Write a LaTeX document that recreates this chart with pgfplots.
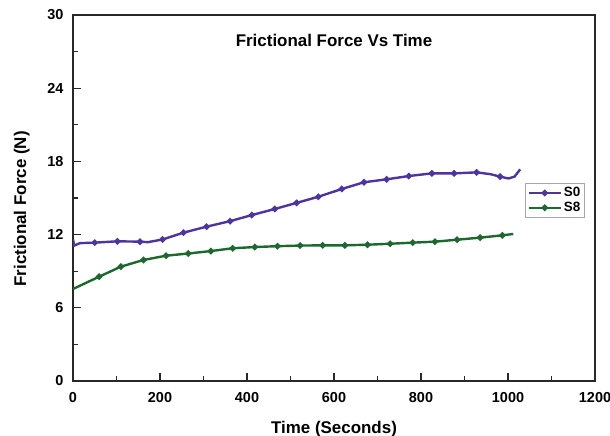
\documentclass[border=0pt]{standalone}
\usepackage{pgfplots}
\pgfplotsset{compat=1.18}
\usepackage{fontspec}
\setmainfont{Liberation Sans}
\definecolor{sPurple}{RGB}{78,52,160}
\definecolor{sGreen}{RGB}{28,104,46}
\definecolor{frameC}{RGB}{40,40,40}
\begin{document}
\begin{tikzpicture}[x=1bp,y=1bp]
\useasboundingbox (0,0) rectangle (610,436);
\begin{axis}[
  at={(73bp,55bp)}, anchor=south west,
  scale only axis, width=522bp, height=366bp,
  xmin=0, xmax=1200, ymin=0, ymax=30,
  xtick={0,200,...,1200}, ytick={0,6,...,30},
  minor x tick num=1, minor y tick num=1,
  xtick pos=lower, ytick pos=left, tick align=inside,
  major tick length=8bp, minor tick length=4.5bp,
  every tick/.style={line width=1.1bp, frameC},
  axis line style={line width=1.5bp, frameC},
  /pgf/number format/assume math mode=true,
  /pgf/number format/1000 sep={},
  ticklabel style={font=\fontsize{14.5}{17}\selectfont\bfseries, text=black},
  xticklabel style={yshift=-8bp},
  yticklabel style={xshift=-6bp},
  xlabel={Time (Seconds)}, ylabel={Frictional Force (N)},
  label style={font=\fontsize{17}{20}\selectfont\bfseries},
  xlabel style={at={(axis description cs:0.5,-0.131)}, anchor=center},
  ylabel style={at={(axis description cs:-0.098,0.47)}, anchor=center},
  title={Frictional Force Vs Time},
  title style={at={(axis description cs:0.5,0.915)}, anchor=center, font=\fontsize{17}{20}\selectfont\bfseries},
  legend style={at={(axis description cs:0.866,0.541)}, anchor=north west,
    draw=gray!70, line width=1bp, font=\fontsize{13.5}{15}\selectfont\bfseries,
    inner sep=2bp, row sep=0bp, fill=white},
  legend cell align=left,
  every mark/.append style={line width=0.4bp},
  legend image code/.code={\draw[#1, mark indices={2}] plot coordinates {(0bp,0bp) (16bp,0bp) (32bp,0bp)};},
]
\addplot[sPurple, line width=2.4bp, mark=*, mark size=1.9bp,
  mark indices={4,5,6,8,9,10,11,12,13,14,15,16,17,18,19,20,21,22,24}] coordinates {
(0,11.6) (3,11.1) (16,11.3) (50,11.34) (102,11.45) (154,11.42) (172,11.38) (206,11.6)
(254,12.16) (307,12.65) (361,13.1) (411,13.6) (464,14.1) (514,14.6) (564,15.1)
(618,15.74) (669,16.29) (721,16.53) (772,16.8) (825,17.02) (876,17.02) (928,17.1)
(960,16.95) (982,16.75) (1001,16.6) (1015,16.75) (1028,17.35)
};
\addlegendentry{S0}
\addplot[sGreen, line width=2.4bp, mark=*, mark size=1.9bp,
  mark indices={2,3,4,5,6,7,8,9,10,11,12,13,14,15,16,17,18,19,20}] coordinates {
(0,7.54) (60,8.55) (110,9.37) (162,9.92) (214,10.27) (265,10.45) (317,10.65)
(367,10.88) (418,10.98) (470,11.05) (522,11.1) (574,11.12) (625,11.12) (677,11.17)
(729,11.25) (781,11.34) (832,11.42) (883,11.58) (936,11.75) (987,11.94) (1012,12.05)
};
\addlegendentry{S8}
\end{axis}
\end{tikzpicture}
\end{document}
